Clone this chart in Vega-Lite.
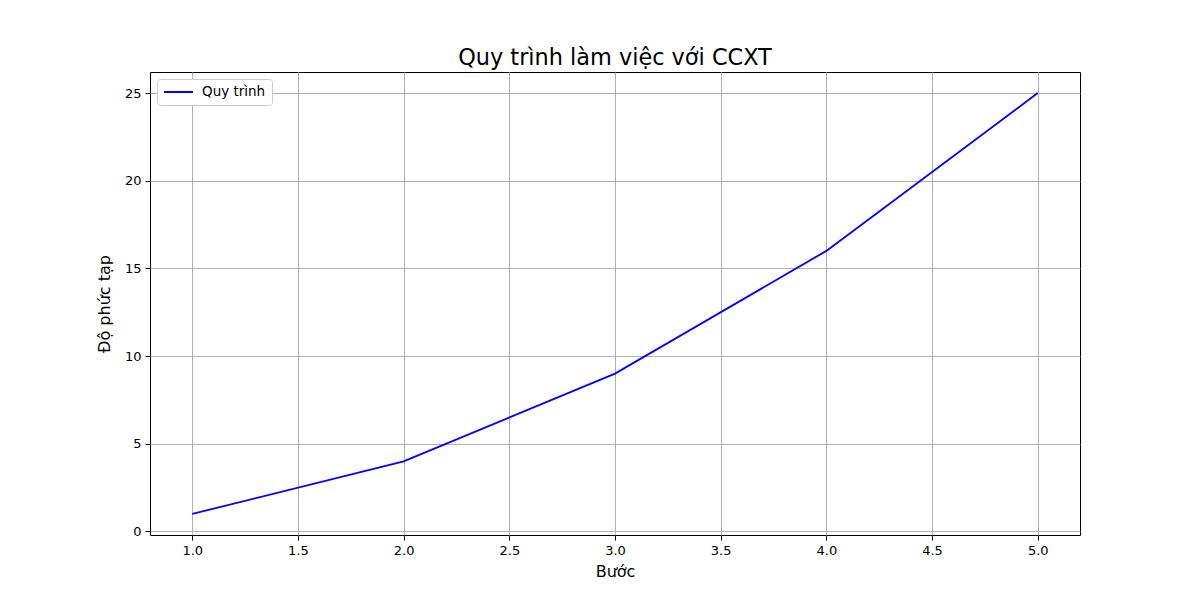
{
  "$schema": "https://vega.github.io/schema/vega-lite/v6.json",
  "autosize": {"type": "none"},
  "width": 930,
  "height": 463,
  "padding": {"left": 150, "top": 72, "right": 120, "bottom": 65},
  "background": "white",
  "title": {"text": "Quy trình làm việc với CCXT", "font": "DejaVu Sans", "fontSize": 22.4, "fontWeight": "normal", "color": "black", "offset": 3},
  "config": {
    "view": {"stroke": "black", "strokeWidth": 1},
    "font": "DejaVu Sans"
  },
  "data": {"values": [
    {"step": 1, "complexity": 1, "series": "Quy trình"},
    {"step": 2, "complexity": 4, "series": "Quy trình"},
    {"step": 3, "complexity": 9, "series": "Quy trình"},
    {"step": 4, "complexity": 16, "series": "Quy trình"},
    {"step": 5, "complexity": 25, "series": "Quy trình"}
  ]},
  "mark": {"type": "line", "strokeWidth": 1.8},
  "encoding": {
    "x": {"field": "step", "type": "quantitative", "title": "Bước",
      "scale": {"domain": [0.8, 5.2], "nice": false, "zero": false},
      "axis": {"values": [1, 1.5, 2, 2.5, 3, 3.5, 4, 4.5, 5], "format": ".1f",
        "grid": true, "gridColor": "#b0b0b0", "gridWidth": 1, "domain": false,
        "tickColor": "black", "tickSize": 5, "labelColor": "black", "labelFontSize": 13, "labelPadding": 4,
        "labelFont": "DejaVu Sans", "titleFont": "DejaVu Sans", "titleFontSize": 16, "titleFontWeight": "normal", "titleColor": "black", "titlePadding": 6}},
    "y": {"field": "complexity", "type": "quantitative", "title": "Độ phức tạp",
      "scale": {"domain": [-0.2, 26.2], "nice": false, "zero": false},
      "axis": {"values": [0, 5, 10, 15, 20, 25],
        "grid": true, "gridColor": "#b0b0b0", "gridWidth": 1, "domain": false,
        "tickColor": "black", "tickSize": 5, "labelColor": "black", "labelFontSize": 13, "labelPadding": 4,
        "labelFont": "DejaVu Sans", "titleFont": "DejaVu Sans", "titleFontSize": 16, "titleFontWeight": "normal", "titleColor": "black", "titlePadding": 12}},
    "color": {"field": "series", "type": "nominal",
      "scale": {"range": ["#0000ff"]},
      "legend": {"title": null, "orient": "top-left", "offset": 7, "symbolType": "stroke", "symbolStrokeWidth": 1.8, "symbolSize": 841, "clipHeight": 14, "labelOffset": 8,
        "labelFontSize": 13.5, "labelFont": "DejaVu Sans", "labelColor": "black", "fillColor": "white", "strokeColor": "#cccccc", "padding": 6, "cornerRadius": 3}}
  }
}
